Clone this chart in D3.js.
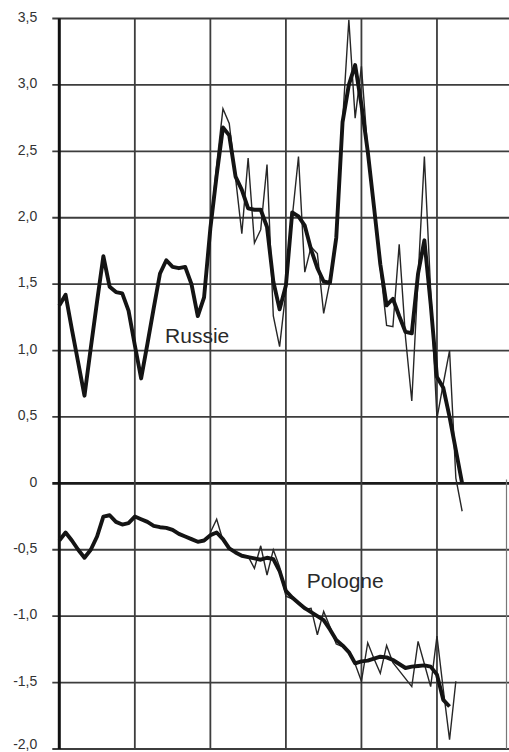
<!DOCTYPE html>
<html>
<head>
<meta charset="utf-8">
<script src="https://cdn.jsdelivr.net/npm/d3@7"></script>
<style>
  html, body { margin: 0; padding: 0; background: #fff; }
  svg { display: block; }
</style>
</head>
<body>
<svg id="chart" width="509" height="752"></svg>
<script>
// Monthly index: 0 = first month of the period, 12 months per grid column.
const columnStarts = [0, 12, 24, 36, 48, 60];

// Y ticks and their printed labels (French decimal comma)
const yTicks = [-2, -1.5, -1, -0.5, 0, 0.5, 1, 1.5, 2, 2.5, 3, 3.5];
const yTickLabels = ["-2,0", "-1,5", "-1,0", "-0,5", "0", "0,5", "1,0", "1,5", "2,0", "2,5", "3,0", "3,5"];

// Russia: smoothed series, months 0..64
const russieLisse = [
  1.34, 1.42, 1.16, 0.91, 0.66, 1.02, 1.37, 1.71, 1.48, 1.44,
  1.43, 1.30, 1.04, 0.79, 1.05, 1.32, 1.58, 1.68, 1.63, 1.62,
  1.63, 1.50, 1.26, 1.40, 1.92, 2.32, 2.68, 2.62, 2.31, 2.21,
  2.07, 2.06, 2.06, 1.93, 1.52, 1.31, 1.49, 2.04, 2.01, 1.94,
  1.76, 1.62, 1.52, 1.51, 1.85, 2.72, 3.00, 3.15, 2.85, 2.50,
  2.08, 1.65, 1.34, 1.39, 1.26, 1.14, 1.13, 1.58, 1.83, 1.35,
  0.80, 0.72, 0.50, 0.25, 0.00
];

// Russia: raw monthly series, starting at month 24
const russieBrutDebut = 24;
const russieBrut = [
  1.92, 2.40, 2.82, 2.71, 2.30, 1.88, 2.45, 1.81, 1.91, 2.40,
  1.26, 1.03, 1.45, 2.00, 2.46, 1.59, 1.78, 1.73, 1.28, 1.52,
  1.85, 2.72, 3.49, 2.75, 3.14, 2.50, 2.08, 1.62, 1.19, 1.18,
  1.80, 1.10, 0.62, 1.55, 2.46, 1.45, 0.49, 0.75, 1.00, 0.04,
  -0.21
];

// Poland: smoothed series, months 0..62
const pologneLisse = [
  -0.43, -0.37, -0.43, -0.50, -0.56, -0.50, -0.40, -0.25, -0.24, -0.29,
  -0.31, -0.30, -0.25, -0.27, -0.29, -0.32, -0.33, -0.335, -0.35, -0.38,
  -0.40, -0.42, -0.44, -0.43, -0.39, -0.37, -0.42, -0.49, -0.52, -0.545,
  -0.555, -0.565, -0.575, -0.56, -0.57, -0.66, -0.81, -0.86, -0.90, -0.94,
  -0.97, -1.00, -1.03, -1.10, -1.18, -1.22, -1.27, -1.355, -1.34, -1.335,
  -1.32, -1.305, -1.31, -1.33, -1.36, -1.39, -1.38, -1.375, -1.37, -1.38,
  -1.44, -1.63, -1.68
];

// Poland: raw monthly series, starting at month 24
const pologneBrutDebut = 24;
const pologneBrut = [
  -0.37, -0.27, -0.43, -0.49, -0.52, -0.545, -0.55, -0.64, -0.47, -0.69,
  -0.50, -0.63, -0.85, -0.87, -0.90, -0.95, -0.94, -1.14, -0.965, -1.08,
  -1.21, -1.23, -1.27, -1.36, -1.49, -1.20, -1.32, -1.43, -1.22, -1.35,
  -1.41, -1.47, -1.53, -1.19, -1.36, -1.53, -1.15, -1.55, -1.93, -1.49
];

const seriesLabels = [
  { text: "Russie", month: 16.8, value: 1.06 },
  { text: "Pologne", month: 39.3, value: -0.79 }
];

const svg = d3.select("#chart");
const W = 509;

const x = d3.scaleLinear().domain([0, 72]).range([59.3, 512.5]);
const y = d3.scaleLinear().domain([-2, 3.5]).range([749, 18.5]);

const grid = svg.append("g");

// horizontal grid lines (with short tick stubs left of the axis)
grid.selectAll("line.h")
  .data(yTicks)
  .join("line")
  .attr("x1", x(0) - 7)
  .attr("x2", W)
  .attr("y1", d => y(d))
  .attr("y2", d => y(d))
  .attr("stroke", d => d === 0 ? "#1a1a1a" : "#3d3d3d")
  .attr("stroke-width", d => d === 0 ? 2.6 : 1.8);

// vertical grid lines, one per column
grid.selectAll("line.v")
  .data(columnStarts.slice(1))
  .join("line")
  .attr("x1", d => x(d))
  .attr("x2", d => x(d))
  .attr("y1", y(3.5))
  .attr("y2", y(-2))
  .attr("stroke", "#3d3d3d")
  .attr("stroke-width", 1.8);

// right frame edge on the lower part
grid.append("line")
  .attr("x1", 506.5).attr("x2", 506.5)
  .attr("y1", y(0.03)).attr("y2", y(-2))
  .attr("stroke", "#777").attr("stroke-width", 1.2);

// left axis line
grid.append("line")
  .attr("x1", x(0)).attr("x2", x(0))
  .attr("y1", y(3.5)).attr("y2", y(-2))
  .attr("stroke", "#111")
  .attr("stroke-width", 3);

// y tick labels
const yAxis = d3.axisLeft(y)
  .tickValues(yTicks)
  .tickSize(0)
  .tickPadding(22)
  .tickFormat((d, i) => yTickLabels[i]);

const ax = svg.append("g")
  .attr("transform", `translate(${x(0)},0)`)
  .call(yAxis);
ax.select(".domain").remove();
ax.selectAll("text")
  .attr("font-family", "'Liberation Sans', Arial, sans-serif")
  .attr("font-size", 14)
  .attr("fill", "#333")
  // the lowest label sits at the bottom edge, lift it so it stays inside
  .attr("dy", d => d === -2 ? "-0.02em" : "0.2em");

const line = d3.line()
  .x(d => x(d.m))
  .y(d => y(d.v))
  .curve(d3.curveLinear);

const toPoints = (arr, start) => arr.map((v, i) => ({ m: start + i, v }));

const marks = svg.append("g");

// raw monthly series (thin)
[[russieBrut, russieBrutDebut], [pologneBrut, pologneBrutDebut]].forEach(([arr, start]) => {
  marks.append("path")
    .attr("d", line(toPoints(arr, start)))
    .attr("fill", "none")
    .attr("stroke", "#262626")
    .attr("stroke-width", 1.4)
    .attr("stroke-linejoin", "miter");
});

// smoothed series (thick)
[russieLisse, pologneLisse].forEach(arr => {
  marks.append("path")
    .attr("d", line(toPoints(arr, 0)))
    .attr("fill", "none")
    .attr("stroke", "#141414")
    .attr("stroke-width", 3.9)
    .attr("stroke-linejoin", "round");
});

// series names
svg.selectAll("text.serie")
  .data(seriesLabels)
  .join("text")
  .attr("class", "serie")
  .attr("x", d => x(d.month))
  .attr("y", d => y(d.value))
  .attr("font-family", "'Liberation Sans', Arial, sans-serif")
  .attr("font-size", 21)
  .attr("fill", "#2a2a2a")
  .text(d => d.text);
</script>
</body>
</html>
